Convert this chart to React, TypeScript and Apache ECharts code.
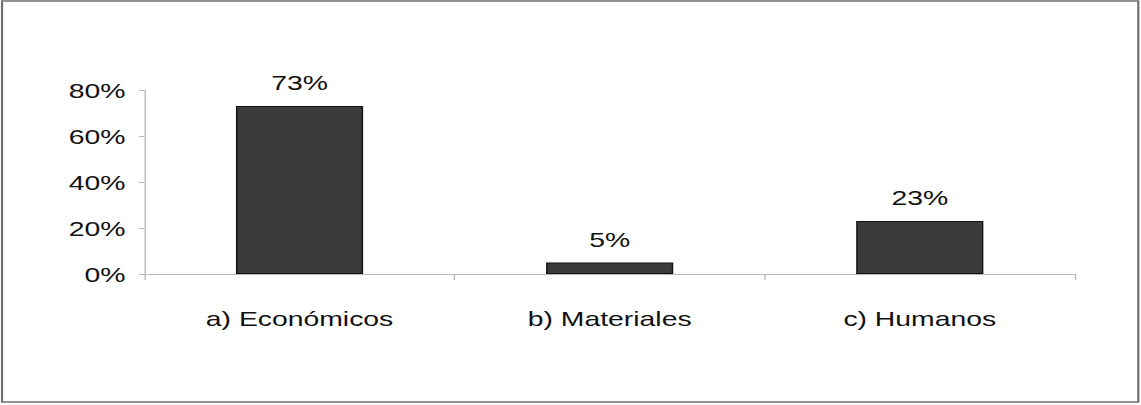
import React, { useEffect, useRef } from "react";
import * as echarts from "echarts";

const categories = ["a) Económicos", "b) Materiales", "c) Humanos"];
const shares = [73, 5, 23];
const yTicks = [0, 20, 40, 60, 80];

// The chart is laid out on a narrower canvas and widened horizontally.
const BASE_W = 845;
const H = 405;
const STRETCH = 1141 / BASE_W;

export default function App() {
  const ref = useRef<HTMLDivElement>(null);

  useEffect(() => {
    if (!ref.current) return;
    const chart = echarts.init(ref.current, null, { renderer: "svg" });
    const font = "'Liberation Sans', Arial, sans-serif";
    chart.setOption({
      animation: false,
      backgroundColor: "#ffffff",
      graphic: [
        {
          type: "rect",
          shape: { x: 1.5, y: 1, width: BASE_W - 3.5, height: H - 4 },
          style: { fill: "none", stroke: "#6f6f6f", lineWidth: 1.6 },
          silent: true,
        },
      ],
      grid: { left: 107, right: BASE_W - 796, top: 90, bottom: H - 274 },
      xAxis: {
        type: "category",
        data: categories,
        boundaryGap: true,
        axisLine: { lineStyle: { color: "#b8b8b8", width: 1 } },
        axisTick: { show: true, length: 6, lineStyle: { color: "#b8b8b8" } },
        axisLabel: {
          color: "#111111",
          fontFamily: font,
          fontSize: 21,
          margin: 34,
        },
      },
      yAxis: {
        type: "value",
        min: yTicks[0],
        max: yTicks[yTicks.length - 1],
        interval: 20,
        splitLine: { show: false },
        axisLine: { show: true, lineStyle: { color: "#b8b8b8", width: 1 } },
        axisTick: { show: true, length: 4, lineStyle: { color: "#b8b8b8" } },
        axisLabel: {
          color: "#111111",
          fontFamily: font,
          fontSize: 21,
          margin: 14,
          formatter: (v: number) => `${v}%`,
        },
      },
      series: [
        {
          type: "bar",
          data: shares,
          barWidth: "41%",
          itemStyle: { color: "#3b3b3b", borderColor: "#111111", borderWidth: 1 },
          label: {
            show: true,
            position: "top",
            distance: 13,
            color: "#111111",
            fontFamily: font,
            fontSize: 21,
            formatter: (p: any) => `${p.value}%`,
          },
        },
      ],
    });
    return () => chart.dispose();
  }, []);

  return (
    <div
      style={{
        position: "absolute",
        left: 0,
        top: 0,
        width: 1141,
        height: H,
        overflow: "hidden",
        background: "#fff",
      }}
    >
      <div
        ref={ref}
        style={{
          width: BASE_W,
          height: H,
          transform: `scaleX(${STRETCH})`,
          transformOrigin: "0 0",
        }}
      />
    </div>
  );
}
